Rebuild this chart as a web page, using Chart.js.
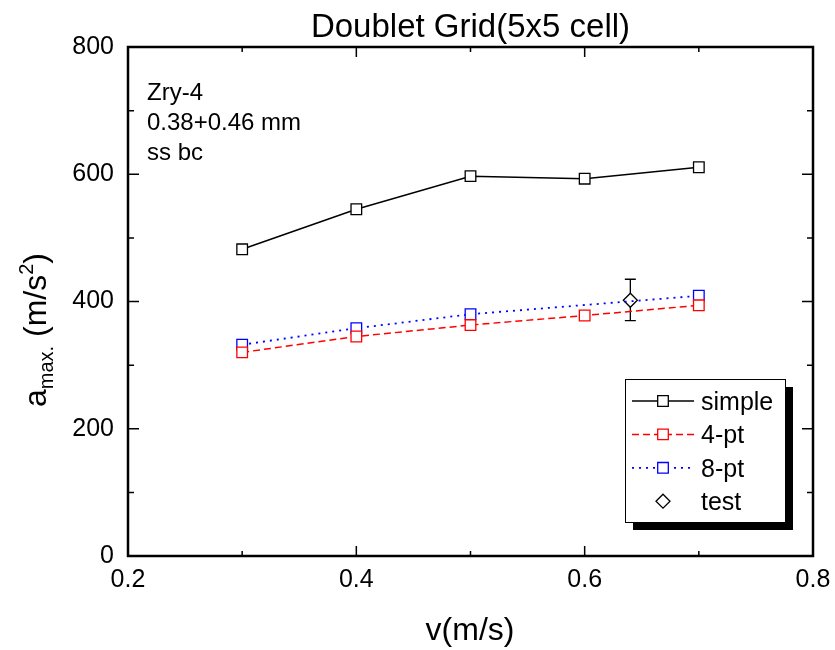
<!DOCTYPE html>
<html>
<head>
<meta charset="utf-8">
<script src="https://cdn.jsdelivr.net/npm/chart.js@4"></script>
<style>
  body { margin: 0; background: #fff; }
  #wrap { width: 835px; height: 650px; }
</style>
</head>
<body>
<div id="wrap"><canvas id="chart"></canvas></div>
<script>
const velocities = [0.3, 0.4, 0.5, 0.6, 0.7];
const simpleValues = [482, 545, 597, 593, 611];
const fourPtValues = [320, 345, 363, 378, 394];
const eightPtVelocities = [0.3, 0.4, 0.5, 0.7];
const eightPtValues = [332, 358, 380, 409];
const testVelocities = [0.64];
const testValues = [402];
const testErrLow = [370];
const testErrHigh = [435];

const xMajorTicks = [0.2, 0.4, 0.6, 0.8];
const xMinorTicks = [0.3, 0.5, 0.7];
const yMajorTicks = [0, 200, 400, 600, 800];
const yMinorTicks = [100, 300, 500, 700];
const noteLines = ['Zry-4', '0.38+0.46 mm', 'ss bc'];
const seriesNames = ['simple', '4-pt', '8-pt', 'test'];

const FONT = "'Liberation Sans', Arial, sans-serif";

function toPoints(xs, ys) {
    return xs.map((x, i) => ({ x: x, y: ys[i] }));
}

const framePlugin = {
    id: 'frame',
    beforeDatasetsDraw(chart) {
        // error bar for the test point
        const ctx = chart.ctx;
        const xs = chart.scales.x, ys = chart.scales.y;
        ctx.save();
        ctx.strokeStyle = '#000';
        ctx.lineWidth = 1.3;
        testVelocities.forEach((v, i) => {
            const px = xs.getPixelForValue(v);
            const top = ys.getPixelForValue(testErrHigh[i]);
            const bot = ys.getPixelForValue(testErrLow[i]);
            ctx.beginPath();
            ctx.moveTo(px, top); ctx.lineTo(px, bot);
            ctx.moveTo(px - 5.5, top); ctx.lineTo(px + 5.5, top);
            ctx.moveTo(px - 5.5, bot); ctx.lineTo(px + 5.5, bot);
            ctx.stroke();
        });
        ctx.restore();
    },
    afterDraw(chart) {
        const ctx = chart.ctx;
        const a = chart.chartArea;
        const xs = chart.scales.x, ys = chart.scales.y;
        ctx.save();

        // ticks pointing inward on all four sides
        ctx.strokeStyle = '#000';
        ctx.lineWidth = 1.5;
        ctx.beginPath();
        const xTick = (v, len) => {
            const px = xs.getPixelForValue(v);
            ctx.moveTo(px, a.bottom); ctx.lineTo(px, a.bottom - len);
            ctx.moveTo(px, a.top); ctx.lineTo(px, a.top + len);
        };
        const yTick = (v, len) => {
            const py = ys.getPixelForValue(v);
            ctx.moveTo(a.left, py); ctx.lineTo(a.left + len, py);
            ctx.moveTo(a.right, py); ctx.lineTo(a.right - len, py);
        };
        xMajorTicks.forEach(v => xTick(v, 10));
        xMinorTicks.forEach(v => xTick(v, 5));
        yMajorTicks.forEach(v => yTick(v, 11));
        yMinorTicks.forEach(v => yTick(v, 6));
        ctx.stroke();

        ctx.lineWidth = 2.5;
        ctx.strokeRect(a.left, a.top, a.right - a.left, a.bottom - a.top);

        // title
        ctx.fillStyle = '#000';
        ctx.textAlign = 'center';
        ctx.textBaseline = 'alphabetic';
        ctx.font = '33px ' + FONT;
        ctx.fillText('Doublet Grid(5x5 cell)', (a.left + a.right) / 2, 37);

        // x axis title
        ctx.font = '32px ' + FONT;
        ctx.fillText('v(m/s)', 470, 640);

        // y axis title: a_max. (m/s^2)
        const parts = [
            { t: 'a', size: 32, dy: 0 },
            { t: 'max.', size: 20, dy: 7 },
            { t: ' (m/s', size: 32, dy: 0 },
            { t: '2', size: 20, dy: -13 },
            { t: ')', size: 32, dy: 0 }
        ];
        let total = 0;
        parts.forEach(p => { ctx.font = p.size + 'px ' + FONT; p.w = ctx.measureText(p.t).width; total += p.w; });
        ctx.save();
        ctx.translate(46, 330 + total / 2);
        ctx.rotate(-Math.PI / 2);
        ctx.textAlign = 'left';
        let cx = 0;
        parts.forEach(p => {
            ctx.font = p.size + 'px ' + FONT;
            ctx.fillText(p.t, cx, p.dy);
            cx += p.w;
        });
        ctx.restore();

        // notes
        ctx.textAlign = 'left';
        ctx.font = '24px ' + FONT;
        noteLines.forEach((line, i) => ctx.fillText(line, 147, 100 + i * 30));

        // legend with shadow
        const lx = 625, ly = 379, lw = 160, lh = 143;
        ctx.fillStyle = '#000';
        ctx.fillRect(lx + 8, ly + 8, lw, lh);
        ctx.fillStyle = '#fff';
        ctx.fillRect(lx, ly, lw, lh);
        ctx.lineWidth = 1;
        ctx.strokeStyle = '#000';
        ctx.strokeRect(lx + 0.5, ly + 0.5, lw, lh);

        ctx.font = '25px ' + FONT;
        chart.data.datasets.forEach((ds, i) => {
            const rowY = 401 + i * 33.4;
            if (ds.showLine) {
                ctx.save();
                ctx.strokeStyle = ds.borderColor;
                ctx.lineWidth = ds.borderWidth;
                ctx.setLineDash(ds.borderDash || []);
                ctx.beginPath();
                ctx.moveTo(632, rowY); ctx.lineTo(694, rowY);
                ctx.stroke();
                ctx.restore();
            }
            ctx.save();
            ctx.fillStyle = ds.pointBackgroundColor;
            ctx.strokeStyle = ds.pointBorderColor;
            ctx.lineWidth = ds.pointBorderWidth;
            Chart.helpers.drawPoint(ctx, {
                pointStyle: ds.pointStyle, radius: ds.pointRadius,
                rotation: 0, borderWidth: ds.pointBorderWidth
            }, 663, rowY);
            ctx.restore();
            ctx.fillStyle = '#000';
            ctx.fillText(ds.label, 701, rowY + 9);
        });

        ctx.restore();
    }
};

const ctx = document.getElementById('chart').getContext('2d');
new Chart(ctx, {
    type: 'scatter',
    data: {
        datasets: [{
            label: seriesNames[0],
            data: toPoints(velocities, simpleValues),
            showLine: true,
            borderColor: '#000',
            borderWidth: 1.5,
            pointStyle: 'rect',
            pointRadius: 7.5,
            pointBackgroundColor: '#fff',
            pointBorderColor: '#000',
            pointBorderWidth: 1.3
        }, {
            label: seriesNames[1],
            data: toPoints(velocities, fourPtValues),
            showLine: true,
            borderColor: '#ff0000',
            borderWidth: 1.5,
            borderDash: [7, 4],
            pointStyle: 'rect',
            pointRadius: 7.5,
            pointBackgroundColor: '#fff',
            pointBorderColor: '#ff0000',
            pointBorderWidth: 1.3
        }, {
            label: seriesNames[2],
            data: toPoints(eightPtVelocities, eightPtValues),
            showLine: true,
            borderColor: '#0000ff',
            borderWidth: 1.8,
            borderDash: [2, 5],
            pointStyle: 'rect',
            pointRadius: 7.5,
            pointBackgroundColor: '#fff',
            pointBorderColor: '#0000ff',
            pointBorderWidth: 1.3
        }, {
            label: seriesNames[3],
            data: toPoints(testVelocities, testValues),
            showLine: false,
            borderColor: '#000',
            pointStyle: 'rectRot',
            pointRadius: 7,
            pointBackgroundColor: '#fff',
            pointBorderColor: '#000',
            pointBorderWidth: 1.3
        }]
    },
    options: {
        responsive: true,
        maintainAspectRatio: false,
        animation: false,
        layout: { padding: { top: 47, right: 22, left: 0, bottom: 0 } },
        plugins: {
            legend: { display: false },
            title: { display: false },
            tooltip: { enabled: false }
        },
        scales: {
            x: {
                type: 'linear',
                min: 0.2,
                max: 0.8,
                afterFit: scale => {
                    scale.height = 94;
                    scale.paddingLeft = 0;
                    scale.paddingRight = 0;
                },
                afterBuildTicks: scale => { scale.ticks = xMajorTicks.map(v => ({ value: v })); },
                grid: { display: false, drawTicks: false },
                border: { display: false },
                ticks: {
                    padding: 9,
                    color: '#000',
                    font: { family: FONT, size: 25 },
                    callback: v => v.toFixed(1)
                }
            },
            y: {
                type: 'linear',
                min: 0,
                max: 800,
                afterFit: scale => {
                    scale.width = 128;
                    scale.paddingTop = 0;
                    scale.paddingBottom = 0;
                },
                afterBuildTicks: scale => { scale.ticks = yMajorTicks.map(v => ({ value: v })); },
                grid: { display: false, drawTicks: false },
                border: { display: false },
                ticks: {
                    padding: 14,
                    color: '#000',
                    font: { family: FONT, size: 25 },
                    callback: v => String(v)
                }
            }
        }
    },
    plugins: [framePlugin]
});
</script>
</body>
</html>
